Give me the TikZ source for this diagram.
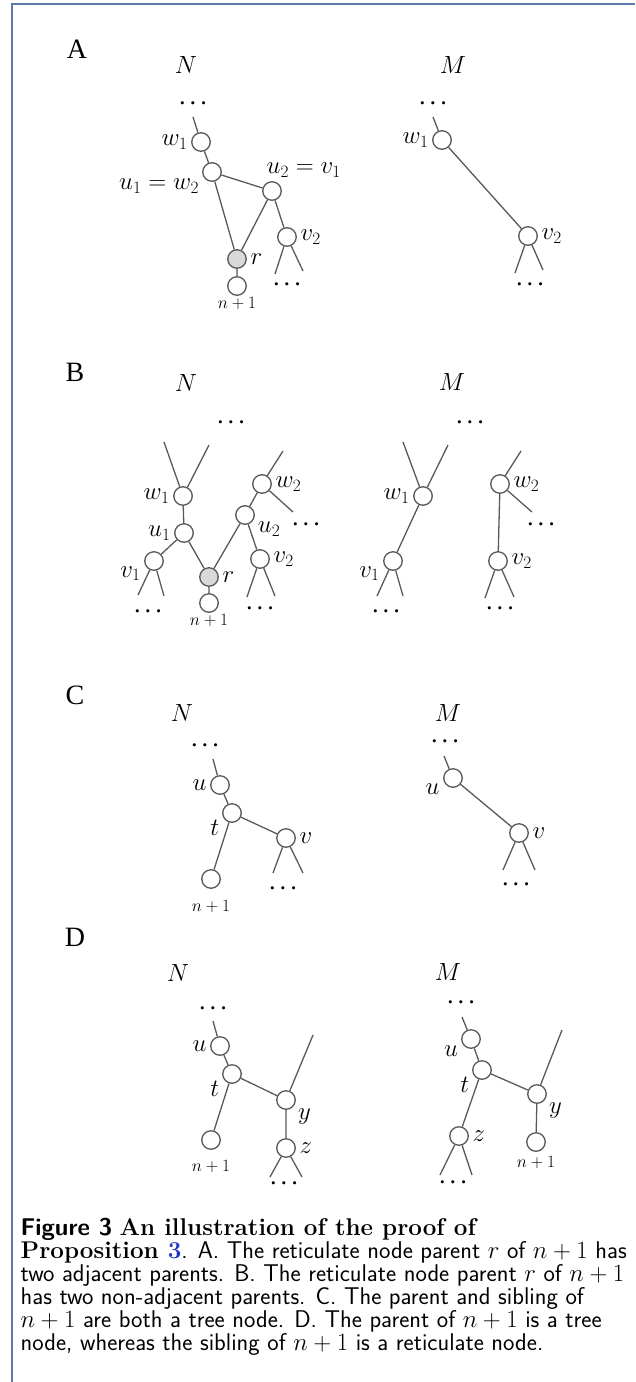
\documentclass[tikz,border=0pt]{standalone}
\usepackage{amsmath}
\usepackage{fontspec}
\newfontfamily\figserif{Liberation Serif}
\usetikzlibrary{positioning}
\definecolor{cgrey}{HTML}{595959}
\definecolor{cfill}{HTML}{D9D9D9}
\definecolor{cframe}{HTML}{5B7BA6}
\definecolor{clink}{HTML}{1F35D0}
\tikzset{
  every picture/.style={line width=1.3pt},
  vtx/.style={circle, draw=cgrey, fill=white, line width=1.3pt, minimum size=18.5pt, inner sep=0pt},
  ret/.style={vtx, fill=cfill},
  edge/.style={draw=cgrey, line width=1.3pt},
  lab/.style={font=\fontsize{24}{26}\selectfont, inner sep=3pt},
  leaf/.style={font=\fontsize{18}{20}\selectfont, inner sep=1pt},
  dots/.style={font=\fontsize{21}{22}\selectfont, inner sep=0pt},
  panel/.style={font=\fontsize{28}{30}\selectfont\figserif},
  title/.style={font=\fontsize{25}{27}\selectfont, inner sep=0pt},
  caption/.style={font=\fontsize{24.2}{21.6}\selectfont\sffamily, align=left, inner sep=0pt},
}
\newcommand{\ellip}{$\boldsymbol{\cdots}$}

\begin{document}
\begin{tikzpicture}[x=1pt, y=-1pt]
  \useasboundingbox (0,0) rectangle (635,1382);
  \draw[cframe, line width=1.6pt] (12,1382) -- (12,4) -- (635,4);
  % (A) adjacent parents
  \node[panel] (pA) at (77,49) {A};
  \node[title] (aN) at (186,65) {$N$};
  \node[dots] (aNd) at (195,104) {\ellip};
  \coordinate (aN0) at (193,117);
  \node[vtx, label={[lab]left:$w_1$}] (aNw1) at (201,142) {};
  \node[vtx, label={[lab]200:$u_1=w_2$}] (aNu1) at (212,172) {};
  \node[vtx, label={[lab, anchor=south west, xshift=-9pt]90:$u_2=v_1$}] (aNu2) at (272,191) {};
  \node[ret, label={[lab]right:$r$}] (aNr) at (237,259) {};
  \node[vtx, label={[leaf]below:$n+1$}] (aNn) at (237,286) {};
  \node[vtx, label={[lab]right:$v_2$}] (aNv2) at (287,237) {};
  \coordinate (aNv2a) at (275,274);
  \coordinate (aNv2b) at (303,271);
  \node[dots] (aNv2d) at (289,285) {\ellip};
  \draw[edge] (aN0) -- (aNw1) -- (aNu1) -- (aNr) -- (aNn);
  \draw[edge] (aNu1) -- (aNu2) -- (aNr);
  \draw[edge] (aNu2) -- (aNv2);
  \draw[edge] (aNv2a) -- (aNv2) -- (aNv2b);

  \node[title] (aM) at (453,65) {$M$};
  \node[dots] (aMd) at (435,104) {\ellip};
  \coordinate (aM0) at (433,117);
  \node[vtx, label={[lab]left:$w_1$}] (aMw1) at (442,140) {};
  \node[vtx, label={[lab]right:$v_2$}] (aMv2) at (528,236) {};
  \coordinate (aMv2a) at (515,273);
  \coordinate (aMv2b) at (543,270);
  \node[dots] (aMv2d) at (532,285) {\ellip};
  \draw[edge] (aM0) -- (aMw1) -- (aMv2);
  \draw[edge] (aMv2a) -- (aMv2) -- (aMv2b);

  % (B) non-adjacent parents
  \node[panel] (pB) at (75,372) {B};
  \node[title] (bN) at (186,383) {$N$};
  \node[dots] (bNd) at (233,423) {\ellip};
  \coordinate (bNw1a) at (164,442);
  \coordinate (bNw1b) at (209,445);
  \node[vtx, label={[lab]left:$w_1$}] (bNw1) at (183,496) {};
  \node[vtx, label={[lab]left:$u_1$}] (bNu1) at (184,533) {};
  \node[vtx, label={[lab]190:$v_1$}] (bNv1) at (154,561) {};
  \coordinate (bNv1a) at (138,595);
  \coordinate (bNv1b) at (164,596);
  \node[dots] (bNv1d) at (150,612) {\ellip};
  \node[ret, label={[lab]right:$r$}] (bNr) at (209,577) {};
  \node[vtx, label={[leaf]below:$n+1$}] (bNn) at (209,603) {};
  \node[vtx, label={[lab]-20:$u_2$}] (bNu2) at (245,515) {};
  \node[vtx, label={[lab]right:$w_2$}] (bNw2) at (262,484) {};
  \coordinate (bNw2a) at (283,451);
  \coordinate (bNw2b) at (293,512);
  \node[dots] (bNw2d) at (308,525) {\ellip};
  \node[vtx, label={[lab]right:$v_2$}] (bNv2) at (260,559) {};
  \coordinate (bNv2a) at (247,597);
  \coordinate (bNv2b) at (275,596);
  \node[dots] (bNv2d) at (262,609) {\ellip};
  \draw[edge] (bNw1a) -- (bNw1) -- (bNw1b);
  \draw[edge] (bNw1) -- (bNu1) -- (bNv1);
  \draw[edge] (bNu1) -- (bNr) -- (bNn);
  \draw[edge] (bNv1a) -- (bNv1) -- (bNv1b);
  \draw[edge] (bNr) -- (bNu2) -- (bNw2) -- (bNw2a);
  \draw[edge] (bNw2) -- (bNw2b);
  \draw[edge] (bNu2) -- (bNv2);
  \draw[edge] (bNv2a) -- (bNv2) -- (bNv2b);

  \node[title] (bM) at (452,382) {$M$};
  \node[dots] (bMd) at (472,423) {\ellip};
  \coordinate (bMw1a) at (403,442);
  \coordinate (bMw1b) at (448,445);
  \node[vtx, label={[lab]left:$w_1$}] (bMw1) at (423,496) {};
  \node[vtx, label={[lab]190:$v_1$}] (bMv1) at (393,561) {};
  \coordinate (bMv1a) at (377,596);
  \coordinate (bMv1b) at (403,596);
  \node[dots] (bMv1d) at (388,612) {\ellip};
  \node[vtx, label={[lab]right:$w_2$}] (bMw2) at (500,484) {};
  \coordinate (bMw2a) at (521,451);
  \coordinate (bMw2b) at (532,512);
  \node[dots] (bMw2d) at (543,525) {\ellip};
  \node[vtx, label={[lab]right:$v_2$}] (bMv2) at (498,561) {};
  \coordinate (bMv2a) at (485,598);
  \coordinate (bMv2b) at (514,597);
  \node[dots] (bMv2d) at (502,609) {\ellip};
  \draw[edge] (bMw1a) -- (bMw1) -- (bMw1b);
  \draw[edge] (bMw1) -- (bMv1);
  \draw[edge] (bMv1a) -- (bMv1) -- (bMv1b);
  \draw[edge] (bMw2a) -- (bMw2) -- (bMw2b);
  \draw[edge] (bMw2) -- (bMv2);
  \draw[edge] (bMv2a) -- (bMv2) -- (bMv2b);

  % (C) tree parent, tree sibling
  \node[panel] (pC) at (75,695) {C};
  \node[title] (cN) at (182,713) {$N$};
  \node[dots] (cNd) at (207,746) {\ellip};
  \coordinate (cN0) at (213,759);
  \node[vtx, label={[lab]left:$u$}] (cNu) at (220,785) {};
  \node[vtx, label={[lab]200:$t$}] (cNt) at (232,813) {};
  \node[vtx, label={[lab]right:$v$}] (cNv) at (286,838) {};
  \coordinate (cNva) at (273,873);
  \coordinate (cNvb) at (303,873);
  \node[dots] (cNvd) at (285,889) {\ellip};
  \node[vtx, label={[leaf, label distance=10pt]below:$n+1$}] (cNn) at (211,879) {};
  \draw[edge] (cN0) -- (cNu) -- (cNt) -- (cNv);
  \draw[edge] (cNt) -- (cNn);
  \draw[edge] (cNva) -- (cNv) -- (cNvb);

  \node[title] (cM) at (448,713) {$M$};
  \node[dots] (cMd) at (447,742) {\ellip};
  \coordinate (cM0) at (444,756);
  \node[vtx, label={[lab]190:$u$}] (cMu) at (453,778) {};
  \node[vtx, label={[lab]right:$v$}] (cMv) at (519,833) {};
  \coordinate (cMva) at (503,870);
  \coordinate (cMvb) at (535,870);
  \node[dots] (cMvd) at (518,885) {\ellip};
  \draw[edge] (cM0) -- (cMu) -- (cMv);
  \draw[edge] (cMva) -- (cMv) -- (cMvb);

  % (D) tree parent, reticulate sibling
  \node[panel] (pD) at (75,937) {D};
  \node[title] (dN) at (178,973) {$N$};
  \node[dots] (dNd) at (215,1009) {\ellip};
  \coordinate (dN0) at (213,1021);
  \node[vtx, label={[lab]left:$u$}] (dNu) at (220,1046) {};
  \node[vtx, label={[lab]200:$t$}] (dNt) at (232,1074) {};
  \node[vtx, label={[lab]-30:$y$}] (dNy) at (286,1100) {};
  \coordinate (dNy0) at (313,1035);
  \node[vtx, label={[lab]right:$z$}] (dNz) at (286,1148) {};
  \coordinate (dNza) at (270,1177);
  \coordinate (dNzb) at (302,1177);
  \node[dots] (dNzd) at (286,1184) {\ellip};
  \node[vtx, label={[leaf, label distance=9pt]below:$n+1$}] (dNn) at (211,1140) {};
  \draw[edge] (dN0) -- (dNu) -- (dNt) -- (dNy) -- (dNz);
  \draw[edge] (dNy0) -- (dNy);
  \draw[edge] (dNt) -- (dNn);
  \draw[edge] (dNza) -- (dNz) -- (dNzb);

  \node[title] (dM) at (448,972) {$M$};
  \node[dots] (dMd) at (463,1003) {\ellip};
  \coordinate (dM0) at (462,1017);
  \node[vtx, label={[lab]200:$u$}] (dMu) at (471,1039) {};
  \node[vtx, label={[lab]200:$t$}] (dMt) at (482,1070) {};
  \node[vtx, label={[lab]-30:$y$}] (dMy) at (537,1094) {};
  \coordinate (dMy0) at (562,1030);
  \node[vtx, label={[leaf, label distance=3pt]below:$n+1$}] (dMn) at (536,1142) {};
  \node[vtx, label={[lab]right:$z$}] (dMz) at (459,1136) {};
  \coordinate (dMza) at (440,1175);
  \coordinate (dMzb) at (472,1175);
  \node[dots] (dMzd) at (455,1183) {\ellip};
  \draw[edge] (dM0) -- (dMu) -- (dMt) -- (dMy) -- (dMn);
  \draw[edge] (dMy0) -- (dMy);
  \draw[edge] (dMt) -- (dMz);
  \draw[edge] (dMza) -- (dMz) -- (dMzb);

  % caption
  \node[caption, anchor=north west] (cap) at (20,1218) {\lineskiplimit=-30pt\relax
    \textbf{Figure 3} {\rmfamily\bfseries An illustration of the proof of}\\
    {\rmfamily\bfseries Proposition \textcolor{clink}{3}}. A. The reticulate node parent $r$ of $n+1$ has\\
    two adjacent parents. B. The reticulate node parent $r$ of $n+1$\\
    has two non-adjacent parents. C. The parent and sibling of\\
    $n+1$ are both a tree node. D. The parent of $n+1$ is a tree\\
    node, whereas the sibling of $n+1$ is a reticulate node.};
\end{tikzpicture}
\end{document}
